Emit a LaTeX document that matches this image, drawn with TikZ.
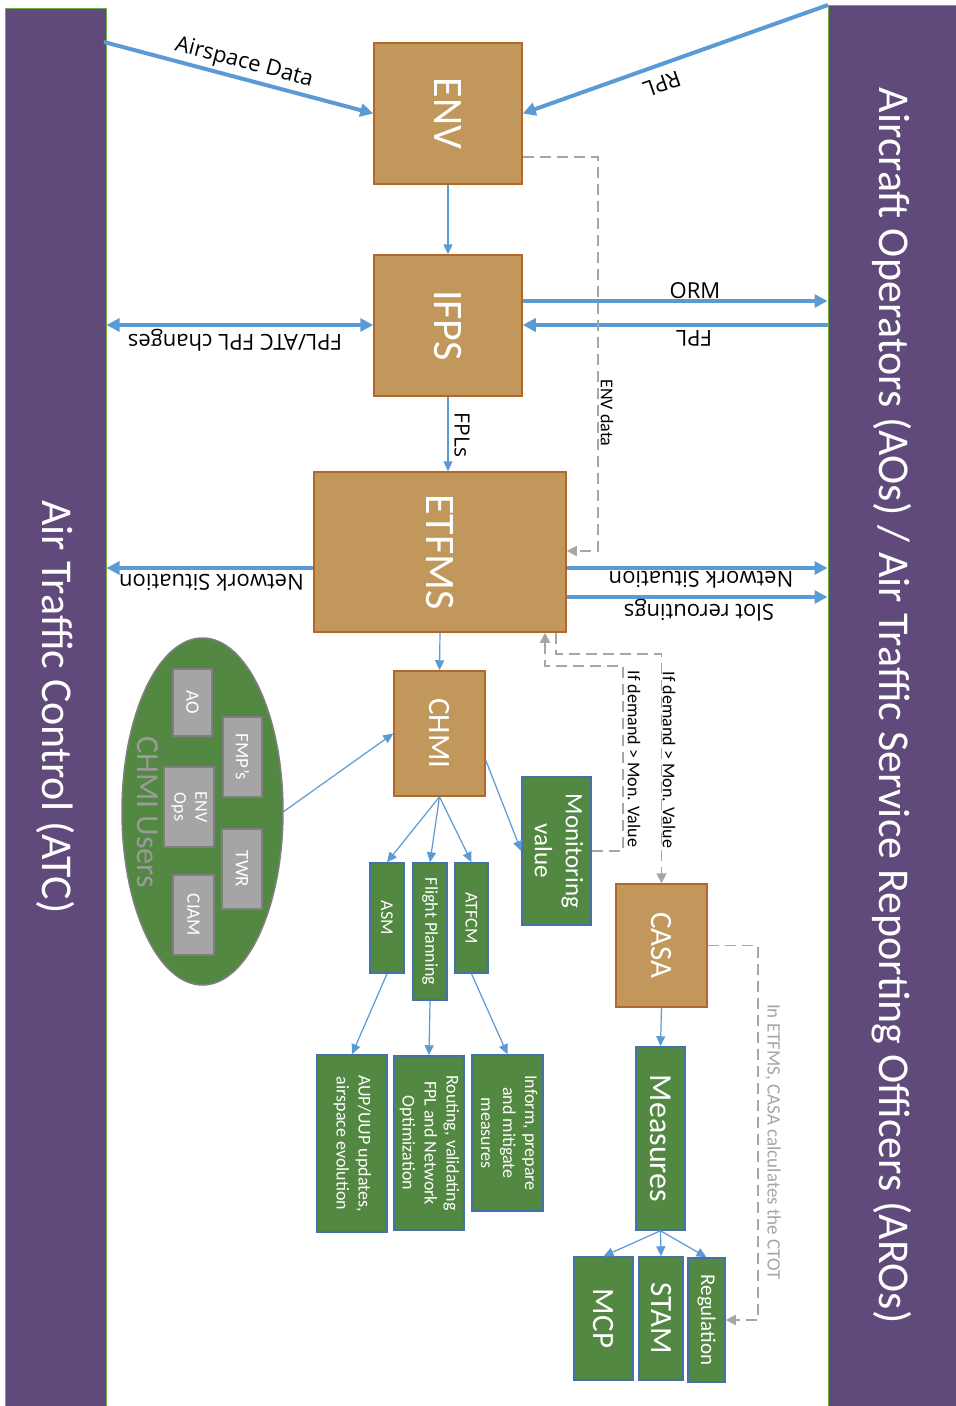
\documentclass[tikz,border=0pt]{standalone}
\usepackage{fontspec}
\setmainfont{Carlito}
\newfontfamily\osans{Open Sans}
\usetikzlibrary{arrows.meta,shapes.geometric,calc}
\definecolor{barpurple}{HTML}{5F4A7B}
\definecolor{bargreen}{HTML}{70AD47}
\definecolor{tanfill}{HTML}{C1975B}
\definecolor{tanbrd}{HTML}{B5662A}
\definecolor{grnfill}{HTML}{538843}
\definecolor{grnbrd}{HTML}{4472A4}
\definecolor{arrblue}{HTML}{5B9BD5}
\definecolor{dashgray}{HTML}{A6A6A6}
\definecolor{boxgray}{HTML}{A5A5A5}
\definecolor{boxgraybrd}{HTML}{7F7F7F}
\definecolor{usersgray}{HTML}{9A9A9A}
\newcommand\fsz[2]{\fontsize{#1}{#2}\selectfont}
\newcommand\vtext[1]{\rotatebox{-90}{#1}}
\newcommand\vlines[1]{\rotatebox{-90}{\begin{tabular}{@{}c@{}}#1\end{tabular}}}
\tikzset{
  bar/.style={draw=bargreen, line width=1pt, fill=barpurple, text=white, inner sep=0pt},
  tanbox/.style={draw=tanbrd, fill=tanfill, line width=1.5pt, text=white, inner sep=0pt},
  grnbox/.style={draw=grnbrd, fill=grnfill, line width=1.5pt, text=white, inner sep=0pt},
  graybox/.style={draw=boxgraybrd, fill=boxgray, line width=1.5pt, text=white, inner sep=0pt},
  bigarrow/.style={draw=arrblue, line width=4pt, -{Triangle[length=13pt,width=13pt]}},
  bigboth/.style={draw=arrblue, line width=4pt, {Triangle[length=13pt,width=13pt]}-{Triangle[length=13pt,width=13pt]}},
  thinarrow/.style={draw=arrblue, line width=1.2pt, -{Triangle[length=10pt,width=9pt]}},
  dashline/.style={draw=dashgray, line width=1.8pt, dash pattern=on 11pt off 6pt, -{Triangle[length=10pt,width=10pt]}},
  lbl/.style={inner sep=0pt, text=black, font=\osans\fsz{22}{26}},
  smlbl/.style={inner sep=0pt, text=black, font=\fsz{18}{21}}
}
\begin{document}
\begin{tikzpicture}[x=1pt,y=-1pt]
\fill[white] (0,0) rectangle (956,1406);
\useasboundingbox (0,0) rectangle (956,1406);

% side bars
\node[bar, minimum width=101pt, minimum height=1398pt, font=\fsz{44}{52}] (atc) at (55.5,707) {\vtext{Air Traffic Control (ATC)}};
\node[bar, minimum width=128pt, minimum height=1401pt, font=\fsz{44}{52}] (aos) at (892,705.5) {\vtext{Aircraft Operators (AOs) / Air Traffic Service Reporting Officers (AROs)}};

% tan boxes
\node[tanbox, minimum width=148pt, minimum height=141pt, font=\fsz{42}{50}] (env) at (448,113.5) {\vtext{ENV}};
\node[tanbox, minimum width=148pt, minimum height=141pt, font=\fsz{42}{50}] (ifps) at (448,325.5) {\vtext{IFPS}};
\node[tanbox, minimum width=252pt, minimum height=160pt, font=\fsz{42}{50}] (etfms) at (440,552) {\vtext{ETFMS}};
\node[tanbox, minimum width=91pt, minimum height=125pt, font=\fsz{31}{37}] (chmi) at (439.5,733.5) {\vtext{CHMI}};
\node[tanbox, minimum width=91pt, minimum height=123pt, font=\fsz{31}{37}] (casa) at (661.5,945.5) {\vtext{CASA}};

% green boxes
\node[grnbox, minimum width=69pt, minimum height=148pt, font=\fsz{25}{31}] (mon) at (556.5,851) {\vlines{Monitoring\\value}};
\node[grnbox, minimum width=34pt, minimum height=110pt, font=\fsz{18}{21}] (asm) at (387,918) {\vtext{ASM}};
\node[grnbox, minimum width=34pt, minimum height=137pt, font=\fsz{18}{21}] (fp) at (430,931.5) {\vtext{Flight Planning}};
\node[grnbox, minimum width=33pt, minimum height=110pt, font=\fsz{18}{21}] (atfcm) at (471.5,918) {\vtext{ATFCM}};
\node[grnbox, minimum width=70pt, minimum height=177pt, font=\fsz{18}{22}] (aup) at (352,1143.5) {\vlines{AUP/UUP updates,\\airspace evolution}};
\node[grnbox, minimum width=70pt, minimum height=174pt, font=\fsz{18}{22}] (rout) at (429,1143) {\vlines{Routing, validating\\FPL and Network\\Optimization}};
\node[grnbox, minimum width=71pt, minimum height=156pt, font=\fsz{18}{22}] (inf) at (507.5,1133) {\vlines{Inform, prepare\\and mitigate\\measures}};
\node[grnbox, minimum width=49pt, minimum height=183pt, font=\fsz{32}{38}] (meas) at (660.5,1138.5) {\vtext{Measures}};
\node[grnbox, minimum width=59pt, minimum height=123pt, font=\fsz{31}{37}] (mcp) at (603.5,1318.5) {\vtext{MCP}};
\node[grnbox, minimum width=44pt, minimum height=123pt, font=\fsz{31}{37}] (stam) at (661,1318.5) {\vtext{STAM}};
\node[grnbox, minimum width=37pt, minimum height=124pt, font=\fsz{21}{25}] (reg) at (706.5,1320) {\vtext{Regulation}};

% CHMI users ellipse
\node[ellipse, draw=boxgraybrd, fill=grnfill, line width=1.5pt, minimum width=161pt, minimum height=347pt, inner sep=0pt] (ell) at (202.5,811.5) {};
\node[graybox, minimum width=39pt, minimum height=67pt, font=\fsz{19}{22}] (ao) at (192.5,702.5) {\vtext{AO}};
\node[graybox, minimum width=39pt, minimum height=80pt, font=\fsz{19}{22}] (fmp) at (242.5,757) {\vtext{FMP’s}};
\node[graybox, minimum width=50pt, minimum height=80pt, font=\fsz{18}{21}] (envops) at (189,807) {\vlines{ENV\\Ops}};
\node[graybox, minimum width=40pt, minimum height=80pt, font=\fsz{19}{22}] (twr) at (242,869) {\vtext{TWR}};
\node[graybox, minimum width=41pt, minimum height=80pt, font=\fsz{19}{22}] (ciam) at (193.5,915) {\vtext{CIAM}};
\node[inner sep=0pt, text=usersgray, font=\fsz{32}{38}] (users) at (148,812) {\vtext{CHMI Users}};

% helper coordinates
\coordinate (ad) at (104,42);
\coordinate (rp) at (828,5);
\coordinate (h301) at (0,301);
\coordinate (h325) at (0,325);
\coordinate (h551) at (0,551);
\coordinate (h568) at (0,568);
\coordinate (h597) at (0,597);
\coordinate (e1) at (598,157);
\coordinate (k1) at (623,666);
\coordinate (k1b) at (545,666);
\coordinate (k2) at (556,654);

% thick arrows
\draw[bigarrow] (ad) -- (env.west);
\draw[bigarrow] (rp) -- (env.east);
\draw[bigarrow] (ifps.east |- h301) -- (aos.west |- h301);
\draw[bigarrow] (aos.west |- h325) -- (ifps.east |- h325);
\draw[bigboth] (atc.east |- h325) -- (ifps.west |- h325);
\draw[bigarrow] (etfms.west |- h568) -- (atc.east |- h568);
\draw[bigarrow] (etfms.east |- h568) -- (aos.west |- h568);
\draw[bigarrow] (etfms.east |- h597) -- (aos.west |- h597);

% thin arrows
\draw[thinarrow] (env.south) -- (ifps.north);
\draw[thinarrow] (ifps.south) -- (ifps.south |- etfms.north);
\draw[thinarrow] (etfms.south) -- (chmi.north);
\draw[thinarrow] (ell.east) -- (chmi.west);
\draw[thinarrow] (chmi.-30) -- (mon.west);
\draw[thinarrow] (chmi.south) -- (asm.north);
\draw[thinarrow] (chmi.south) -- (fp.north);
\draw[thinarrow] (chmi.south) -- (atfcm.north);
\draw[thinarrow] (asm.south) -- (aup.north);
\draw[thinarrow] (fp.south) -- (rout.north);
\draw[thinarrow] (atfcm.south) -- (inf.north);
\draw[thinarrow] (casa.south) -- (meas.north);
\draw[thinarrow] (meas.south) -- (mcp.north);
\draw[thinarrow] (meas.south) -- (stam.north);
\draw[thinarrow] (meas.south) -- (reg.north);

% dashed connectors
\draw[dashline] (env.east |- e1) -- (e1) |- (etfms.east |- h551);
\draw[dashline] (mon.east) -| (k1) -- (k1b) -- (k1b |- etfms.south);
\draw[dashline] (etfms.south -| k2) -- (k2) -| (casa.north);
\draw[dashline] (casa.east) -- ++(50,0) |- (reg.east);

% labels
\node[lbl, rotate=-14.8] (lad) at (244,63) {Airspace Data};
\node[lbl, rotate=199.4] (lrpl) at (662,84) {RPL};
\node[lbl] (lorm) at (695,291) {ORM};
\node[lbl, rotate=180] (lfpl) at (694,338) {FPL};
\node[lbl, rotate=180] (lfac) at (235,340) {FPL/ATC FPL changes};
\node[lbl, rotate=180] (lnsl) at (211.5,583) {Network Situation};
\node[lbl, rotate=180] (lnsr) at (701,580) {Network Situation};
\node[lbl, rotate=180] (lslot) at (699,610) {Slot reroutings};
\node[lbl, rotate=-90, font=\osans\fsz{21}{25}] (lfpls) at (462,435) {FPLs};
\node[smlbl, rotate=-90] (lenvd) at (607,413) {ENV data};
\node[smlbl, rotate=-90] (ldem1) at (634,759) {If demand > Mon. Value};
\node[smlbl, rotate=-90] (ldem2) at (669,760) {If demand > Mon. Value};
\node[smlbl, rotate=-90, text=dashgray, font=\fsz{19}{22}] (lctot) at (773,1142) {In ETFMS, CASA calculates the CTOT};
\end{tikzpicture}
\end{document}
